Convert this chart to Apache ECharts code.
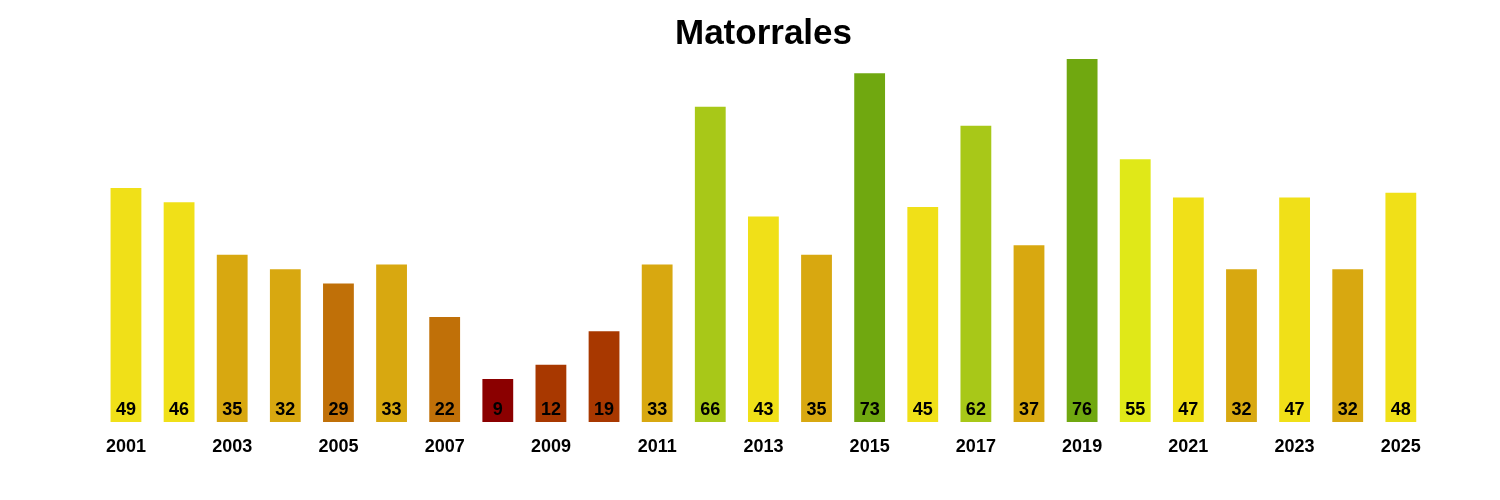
<!DOCTYPE html>
<html><head><meta charset="utf-8">
<script src="https://cdn.jsdelivr.net/npm/echarts@6/dist/echarts.min.js"></script>
<style>html,body{margin:0;padding:0;background:#fff}#c{width:1500px;height:500px}</style>
</head><body><div id="c"></div>
<script>
const years = ['2001','2002','2003','2004','2005','2006','2007','2008','2009','2010','2011','2012','2013','2014','2015','2016','2017','2018','2019','2020','2021','2022','2023','2024','2025'];
const values = [49,46,35,32,29,33,22,9,12,19,33,66,43,35,73,45,62,37,76,55,47,32,47,32,48];
const binColors = ['#8B0000','#A83800','#C07008','#D8A810','#F0E018','#E0E818','#A8C818','#70A810'];
function colorFor(v){ return binColors[Math.min(binColors.length-1, Math.floor(v/10))]; }
const chart = echarts.init(document.getElementById('c'));
chart.setOption({
  animation:false,
  backgroundColor:'#fff',
  title:{text:'Matorrales',left:670,top:12,textStyle:{fontFamily:'Liberation Sans',fontWeight:'bold',fontSize:35,color:'#000'}},
  grid:{left:99.4,right:72.6,top:59,bottom:78},
  xAxis:{type:'category',data:years,axisLine:{show:false},axisTick:{show:false},
    axisLabel:{interval:1,margin:16,fontFamily:'Liberation Sans',fontWeight:'bold',fontSize:18,color:'#000'}},
  yAxis:{type:'value',min:0,max:Math.max(...values),show:false,splitLine:{show:false}},
  series:[{type:'bar',barWidth:'58%',
    data:values.map(v=>({value:v,itemStyle:{color:colorFor(v)}})),
    label:{show:true,position:'insideBottom',distance:3,fontFamily:'Liberation Sans',fontWeight:'bold',fontSize:18,color:'#000'}}]
});
</script></body></html>
